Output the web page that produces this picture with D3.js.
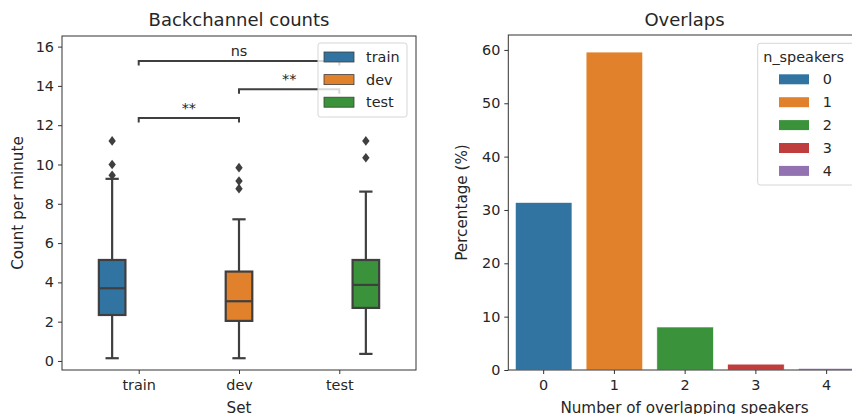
<!DOCTYPE html>
<html><head><meta charset="utf-8">
<script src="https://cdn.jsdelivr.net/npm/d3@7"></script>
<style>
body{margin:0;background:#fff;}
text{font-family:"DejaVu Sans",sans-serif;fill:#262626;}
</style></head>
<body><svg id="c" width="852" height="414"></svg>
<script>
// ---- Left: Backchannel counts (box plot) ----
const sets = ["train","dev","test"];
const setColors = ["#3274a1","#e1812c","#3a923a"];
const q1Vals = [2.34, 2.04, 2.70];
const medianVals = [3.70, 3.04, 3.87];
const q3Vals = [5.14, 4.55, 5.14];
const whiskLow = [0.14, 0.14, 0.36];
const whiskHigh = [9.27, 7.21, 8.62];
const outliers = [[9.45, 10.0, 11.2],[8.77, 9.16, 9.84],[10.34, 11.2]];
const hueOffsets = [-0.265, 0, 0.265];
const boxLeftTicks = [0,2,4,6,8,10,12,14,16];
const annotPairs = [[0,1],[1,2],[0,2]];
const annotLevels = [12.36, 13.83, 15.27];
const annotLabels = ["**","**","ns"];

// ---- Right: Overlaps (bar chart) ----
const nSpeakers = ["0","1","2","3","4"];
const overlapPct = [31.4, 59.6, 8.06, 1.1, 0.3];
const overlapColors = ["#3274a1","#e1812c","#3a923a","#c03d3e","#9372b2"];
const overlapTicks = [0,10,20,30,40,50,60];

const svg = d3.select("#c");
const FS = 14.4, LS = 15.2, TS = 18;
const lineC = "#3f3f3f";

// ===== Left chart =====
{
  const L=62, R=416, T=36, B=370;
  const x = d3.scaleLinear().domain([-0.765, 2.765]).range([L,R]);
  const y = d3.scaleLinear().domain([-0.46, 16.54]).range([B,T]);
  const g = svg.append("g");
  const ya = g.append("g").attr("transform",`translate(${L},0)`)
    .call(d3.axisLeft(y).tickValues(boxLeftTicks).tickSize(4).tickPadding(4));
  const xa = g.append("g").attr("transform",`translate(0,${B})`)
    .call(d3.axisBottom(x).tickValues([0,1,2]).tickFormat(i=>sets[i]).tickSize(4).tickPadding(6));
  [ya,xa].forEach(a=>{a.select(".domain").remove();a.selectAll("line").attr("stroke","#333");
    a.selectAll("text").attr("font-size",FS).attr("fill","#262626").attr("font-family","DejaVu Sans");});
  g.append("rect").attr("x",L).attr("y",T).attr("width",R-L).attr("height",B-T)
    .attr("fill","none").attr("stroke","#333").attr("stroke-width",1);
  const bw = 0.265;
  sets.forEach((s,i)=>{
    const cx = x(i+hueOffsets[i]);
    const hw = (x(bw)-x(0))/2;
    const capw = hw/2;
    const bg = g.append("g").attr("stroke",lineC).attr("stroke-width",2.2);
    bg.append("line").attr("x1",cx).attr("x2",cx).attr("y1",y(whiskLow[i])).attr("y2",y(q1Vals[i]));
    bg.append("line").attr("x1",cx).attr("x2",cx).attr("y1",y(q3Vals[i])).attr("y2",y(whiskHigh[i]));
    bg.append("line").attr("x1",cx-capw).attr("x2",cx+capw).attr("y1",y(whiskLow[i])).attr("y2",y(whiskLow[i]));
    bg.append("line").attr("x1",cx-capw).attr("x2",cx+capw).attr("y1",y(whiskHigh[i])).attr("y2",y(whiskHigh[i]));
    bg.append("rect").attr("x",cx-hw).attr("width",2*hw).attr("y",y(q3Vals[i]))
      .attr("height",y(q1Vals[i])-y(q3Vals[i])).attr("fill",setColors[i]);
    bg.append("line").attr("x1",cx-hw).attr("x2",cx+hw).attr("y1",y(medianVals[i])).attr("y2",y(medianVals[i]));
    outliers[i].forEach(v=>{
      const py=y(v);
      g.append("path").attr("d",`M${cx},${py-4.8}L${cx+3.7},${py}L${cx},${py+4.8}L${cx-3.7},${py}Z`)
        .attr("fill",lineC);
    });
  });
  annotPairs.forEach((p,k)=>{
    const x1=x(p[0]), x2=x(p[1]), yy=y(annotLevels[k]);
    g.append("path").attr("d",`M${x1},${yy+4.5}V${yy}H${x2}V${yy+4.5}`)
      .attr("fill","none").attr("stroke",lineC).attr("stroke-width",2);
    g.append("text").attr("x",(x1+x2)/2).attr("y",yy-5).attr("text-anchor","middle")
      .attr("font-size",FS).text(annotLabels[k]);
  });
  const lg = g.append("g");
  lg.append("rect").attr("x",318).attr("y",43).attr("width",89).attr("height",74).attr("rx",2.5)
    .attr("fill","#fff").attr("fill-opacity",0.8).attr("stroke","#d6d6d6");
  sets.forEach((s,i)=>{
    const cy = 57+i*22.6;
    lg.append("rect").attr("x",324).attr("y",cy-5).attr("width",30).attr("height",10)
      .attr("fill",setColors[i]).attr("stroke",lineC).attr("stroke-width",0.8);
    lg.append("text").attr("x",366).attr("y",cy).attr("dy","0.35em").attr("font-size",FS).text(s);
  });
  g.append("text").attr("x",(L+R)/2).attr("y",26).attr("text-anchor","middle").attr("font-size",TS).text("Backchannel counts");
  g.append("text").attr("x",(L+R)/2).attr("y",413).attr("text-anchor","middle").attr("font-size",LS).text("Set");
  g.append("text").attr("transform",`translate(23,${(T+B)/2}) rotate(-90)`).attr("text-anchor","middle")
    .attr("font-size",LS).text("Count per minute");
}

// ===== Right chart =====
{
  const L=508.3, R=862, T=35, B=370;
  const x = d3.scaleBand().domain(nSpeakers).range([L,R]).paddingInner(0.2).paddingOuter(0.1);
  const y = d3.scaleLinear().domain([0, 62.8]).range([B,T]);
  const g = svg.append("g");
  g.selectAll("rect.bar").data(overlapPct).join("rect").attr("class","bar")
    .attr("x",(d,i)=>x(nSpeakers[i])).attr("width",x.bandwidth())
    .attr("y",d=>y(d)).attr("height",d=>B-y(d))
    .attr("fill",(d,i)=>overlapColors[i]).attr("stroke","#fff").attr("stroke-width",0.6);
  const ya = g.append("g").attr("transform",`translate(${L},0)`)
    .call(d3.axisLeft(y).tickValues(overlapTicks).tickSize(4).tickPadding(4));
  const xa = g.append("g").attr("transform",`translate(0,${B})`)
    .call(d3.axisBottom(x).tickSize(4).tickPadding(6));
  [ya,xa].forEach(a=>{a.select(".domain").remove();a.selectAll("line").attr("stroke","#333");
    a.selectAll("text").attr("font-size",FS).attr("fill","#262626").attr("font-family","DejaVu Sans");});
  g.append("rect").attr("x",L).attr("y",T).attr("width",R-L).attr("height",B-T)
    .attr("fill","none").attr("stroke","#333").attr("stroke-width",1);
  const lg = g.append("g");
  lg.append("rect").attr("x",757.7).attr("y",43.3).attr("width",110).attr("height",141.7).attr("rx",2.5)
    .attr("fill","#fff").attr("fill-opacity",0.8).attr("stroke","#d6d6d6");
  lg.append("text").attr("x",763.3).attr("y",57).attr("dy","0.35em").attr("font-size",FS).text("n_speakers");
  nSpeakers.forEach((s,i)=>{
    const cy = 79.3+i*22.9;
    lg.append("rect").attr("x",779).attr("y",cy-5).attr("width",30).attr("height",10)
      .attr("fill",overlapColors[i]);
    lg.append("text").attr("x",822.7).attr("y",cy).attr("dy","0.35em").attr("font-size",FS).text(s);
  });
  g.append("text").attr("x",684.5).attr("y",26).attr("text-anchor","middle").attr("font-size",TS).text("Overlaps");
  g.append("text").attr("x",684.5).attr("y",413).attr("text-anchor","middle").attr("font-size",LS).text("Number of overlapping speakers");
  g.append("text").attr("transform",`translate(467,${(T+B)/2}) rotate(-90)`).attr("text-anchor","middle")
    .attr("font-size",LS).text("Percentage (%)");
}
</script></body></html>
